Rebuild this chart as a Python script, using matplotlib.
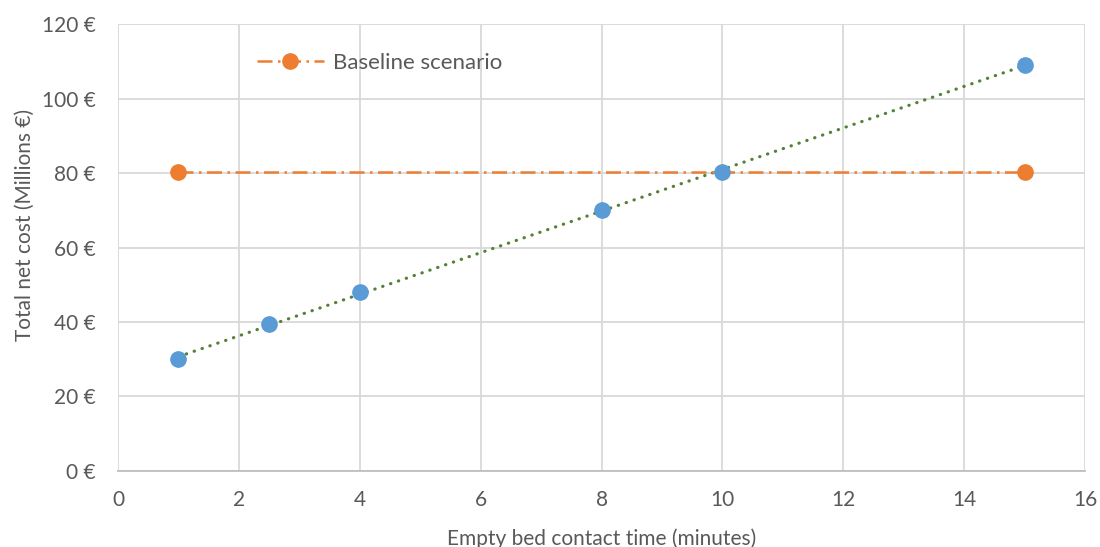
import numpy as np
import matplotlib
matplotlib.use("Agg")
import matplotlib.pyplot as plt

# data
ebct = [1, 2.5, 4, 8, 10, 15]
net_cost = [30.0, 39.5, 48.0, 70.0, 80.3, 109.0]

baseline_x = [1, 15]
baseline_y = [80.2, 80.2]

x_ticks = [0, 2, 4, 6, 8, 10, 12, 14, 16]
y_ticks = [0, 20, 40, 60, 80, 100, 120]
y_labels = [f"{v} €" for v in y_ticks]

BLUE = "#5B9BD5"
ORANGE = "#ED7D31"
GREEN = "#548235"
TEXT = "#595959"

plt.rcParams["font.family"] = ["Lato", "DejaVu Sans"]

fig = plt.figure(figsize=(11, 5.47), dpi=100)
ax = fig.add_axes([0.1073, 0.139, 0.8791, 0.817])

# linear trendline through the scenario points
slope, intercept = np.polyfit(ebct, net_cost, 1)
trend_x = np.array([ebct[0], ebct[-1]])
ax.plot(trend_x, slope * trend_x + intercept, color=GREEN, lw=2.3,
        linestyle=(0, (0.1, 2.5)), dash_capstyle="round", zorder=3)

ax.plot(baseline_x, baseline_y, color=ORANGE, lw=1.8,
        linestyle=(0, (6, 2.2, 1, 2.2)), marker="o", markersize=11,
        label="Baseline scenario", zorder=4)

ax.plot(ebct, net_cost, linestyle="none", marker="o", markersize=11,
        color=BLUE, zorder=5)

ax.set_xlim(0, 16)
ax.set_ylim(0, 120)
ax.set_xticks(x_ticks)
ax.set_yticks(y_ticks)
ax.set_yticklabels(y_labels)

ax.grid(True, color="#d9d9d9", lw=1.3)
ax.set_axisbelow(True)
for side in ["top", "right", "left"]:
    ax.spines[side].set_visible(False)
ax.spines["bottom"].set_color("#bfbfbf")
ax.spines["bottom"].set_linewidth(1.3)
ax.tick_params(length=0, labelsize=15, colors=TEXT)
ax.tick_params(axis="x", pad=14)
ax.tick_params(axis="y", pad=16)

ax.set_xlabel("Empty bed contact time (minutes)", fontsize=15, color=TEXT)
ax.set_ylabel("Total net cost (Millions €)", fontsize=15, color=TEXT)
ax.xaxis.set_label_coords(0.5, -0.128)
ax.yaxis.set_label_coords(-0.086, 0.55)

ax.legend(loc="upper left", bbox_to_anchor=(0.123, 0.98), frameon=False,
          fontsize=16, labelcolor=TEXT, handlelength=3.0, handletextpad=0.4)

plt.savefig("out.png", dpi=100)
plt.close()
